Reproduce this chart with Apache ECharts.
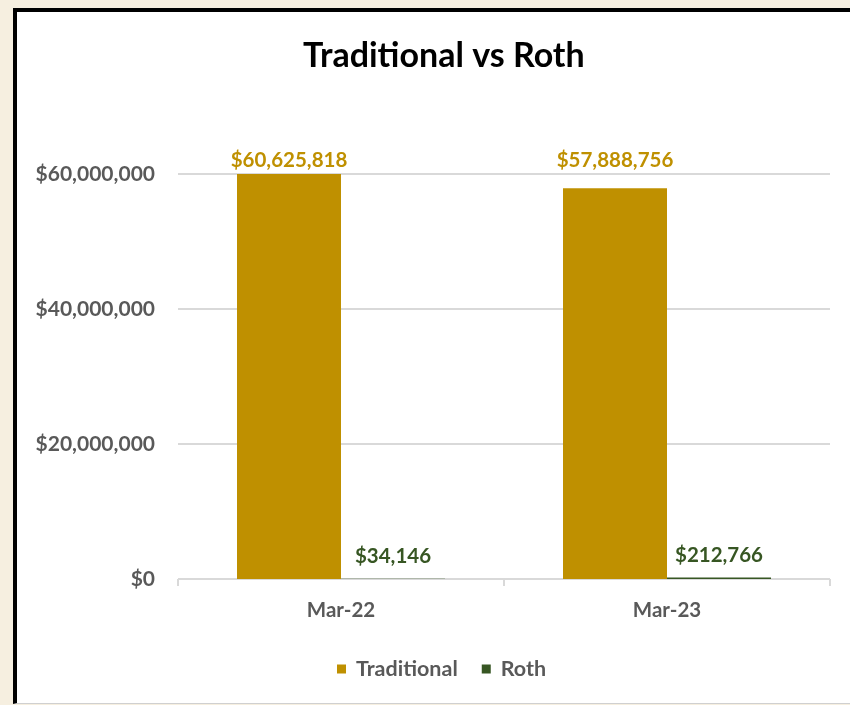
<!DOCTYPE html>
<html>
<head>
<meta charset="utf-8">
<script src="https://cdn.jsdelivr.net/npm/echarts@6/dist/echarts.min.js"></script>
<style>
  html, body {
    margin: 0;
    padding: 0;
    width: 850px;
    height: 705px;
    overflow: hidden;
    background: #f6efe0;
  }
  .frame {
    position: absolute;
    left: 13px;
    top: 8px;
    width: 900px;
    height: 696px;
    box-sizing: border-box;
    background: #fff;
    border-left: 4px solid #000;
    border-top: 4px solid #000;
    border-bottom: 1px solid #d0d0d0;
  }
  #chart {
    position: absolute;
    left: 0;
    top: 0;
    width: 850px;
    height: 705px;
  }
</style>
</head>
<body>
<div class="frame"></div>
<div id="chart"></div>
<script>
// categories and values
const months = ['Mar-22', 'Mar-23']
const traditional = [60625818, 57888756]
const roth = [34146, 212766]
const yTicks = [0, 20000000, 40000000, 60000000]

const FONT = 'Lato'
const GREY = '#595959'
const GOLD = '#bf9000'
const GREEN = '#375623'

const money = v => '$' + Math.round(v).toLocaleString('en-US')

// label spacing above each bar
const tradDist = [3, 17]

const chart = echarts.init(document.getElementById('chart'))
chart.setOption({
  animation: false,
  title: {
    text: 'Traditional vs Roth',
    left: 298,
    top: 34,
    textStyle: {
      fontFamily: FONT,
      fontWeight: 'bold',
      fontSize: 34,
      color: '#000'
    }
  },
  legend: {
    left: 332,
    top: 653,
    icon: 'rect',
    itemWidth: 9,
    itemHeight: 9,
    itemGap: 24,
    textStyle: {
      fontFamily: FONT,
      fontWeight: 'bold',
      fontSize: 21.5,
      color: GREY,
      padding: [0, 0, 0, 5]
    },
    data: ['Traditional', 'Roth']
  },
  grid: {
    left: 178,
    top: 174,
    width: 652,
    height: 405
  },
  xAxis: {
    type: 'category',
    data: months,
    offset: 5,
    axisLine: { show: false },
    axisTick: {
      show: true,
      length: 7,
      lineStyle: { color: '#d9d9d9', width: 2 }
    },
    axisLabel: {
      margin: 16,
      fontFamily: FONT,
      fontWeight: 'bold',
      fontSize: 20.5,
      color: GREY
    }
  },
  yAxis: {
    type: 'value',
    min: yTicks[0],
    max: yTicks[yTicks.length - 1],
    interval: yTicks[1] - yTicks[0],
    axisLine: { show: false },
    axisTick: { show: false },
    splitLine: { lineStyle: { color: '#d9d9d9', width: 2 } },
    axisLabel: {
      margin: 23,
      fontFamily: FONT,
      fontWeight: 'bold',
      fontSize: 21,
      color: GREY,
      formatter: money
    }
  },
  series: [
    {
      name: 'Traditional',
      type: 'bar',
      barWidth: 104,
      barGap: '0%',
      clip: true,
      itemStyle: { color: GOLD },
      data: traditional.map((v, i) => ({
        value: v,
        label: { distance: tradDist[i] }
      })),
      label: {
        show: true,
        position: 'top',
        fontFamily: FONT,
        fontWeight: 'bold',
        fontSize: 20.5,
        color: GOLD,
        formatter: p => money(p.value)
      }
    },
    {
      name: 'Roth',
      type: 'bar',
      barWidth: 104,
      itemStyle: { color: GREEN },
      data: roth,
      label: {
        show: true,
        position: 'top',
        distance: 12,
        fontFamily: FONT,
        fontWeight: 'bold',
        fontSize: 20.5,
        color: GREEN,
        formatter: p => money(p.value)
      }
    }
  ]
})
</script>
</body>
</html>
